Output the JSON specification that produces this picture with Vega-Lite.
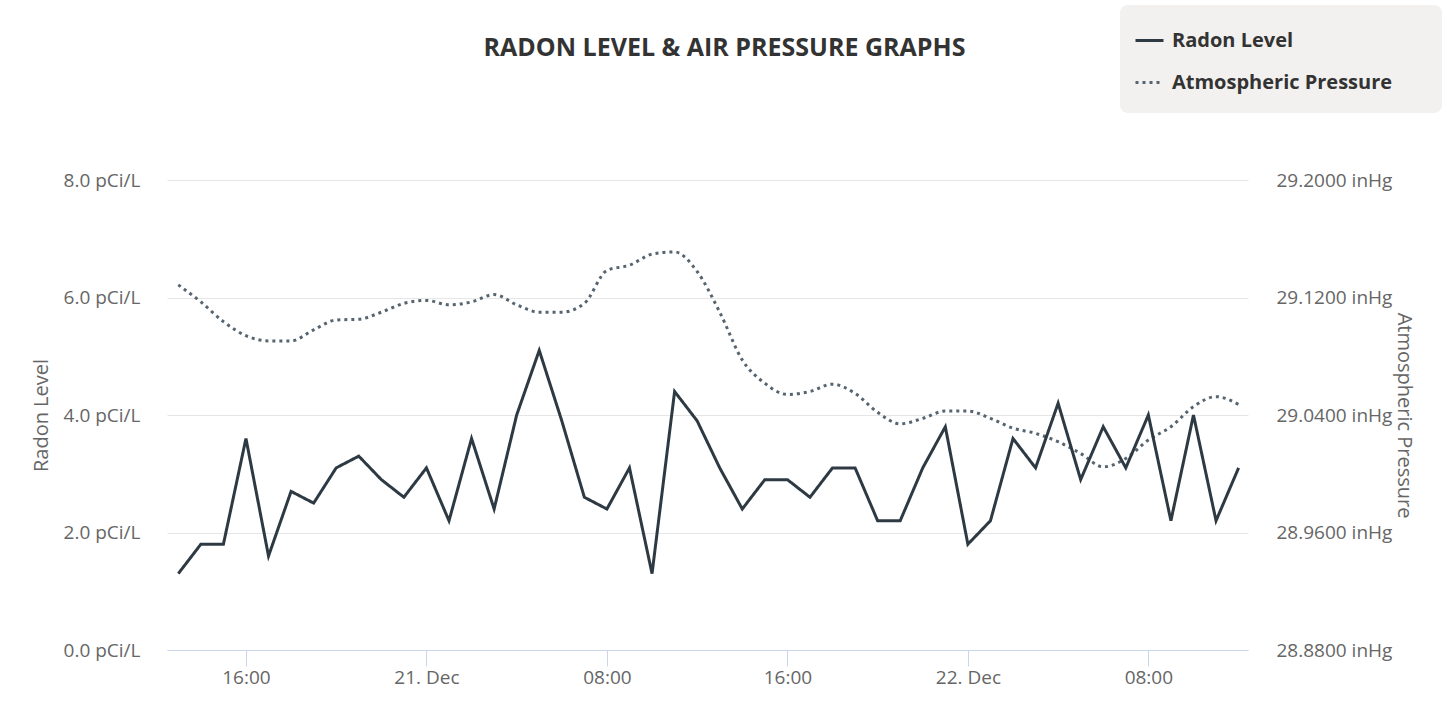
{
  "$schema": "https://vega.github.io/schema/vega-lite/v6.json",
  "autosize": "none",
  "width": 1081,
  "height": 470,
  "padding": {"left": 167, "top": 180, "right": 200, "bottom": 60},
  "background": "#ffffff",
  "config": {
    "view": {"stroke": null},
    "font": "Open Sans",
    "axis": {"labelFont": "Open Sans", "titleFont": "Open Sans"}
  },
  "title": {
    "text": "RADON LEVEL & AIR PRESSURE GRAPHS",
    "font": "Open Sans",
    "fontSize": 25,
    "fontWeight": "bold",
    "color": "#333333",
    "anchor": "middle",
    "frame": "group",
    "baseline": "alphabetic",
    "dx": 17,
    "offset": -76
  },
  "data": {
    "values": [
      {"t": "2023-12-20T13:00:00Z", "radon": 1.3, "pressure": 29.1286},
      {"t": "2023-12-20T14:00:00Z", "radon": 1.8, "pressure": 29.117},
      {"t": "2023-12-20T15:00:00Z", "radon": 1.8, "pressure": 29.1036},
      {"t": "2023-12-20T16:00:00Z", "radon": 3.6, "pressure": 29.094},
      {"t": "2023-12-20T17:00:00Z", "radon": 1.6, "pressure": 29.0904},
      {"t": "2023-12-20T18:00:00Z", "radon": 2.7, "pressure": 29.0904},
      {"t": "2023-12-20T19:00:00Z", "radon": 2.5, "pressure": 29.098},
      {"t": "2023-12-20T20:00:00Z", "radon": 3.1, "pressure": 29.1047},
      {"t": "2023-12-20T21:00:00Z", "radon": 3.3, "pressure": 29.1052},
      {"t": "2023-12-20T22:00:00Z", "radon": 2.9, "pressure": 29.11},
      {"t": "2023-12-20T23:00:00Z", "radon": 2.6, "pressure": 29.116},
      {"t": "2023-12-21T00:00:00Z", "radon": 3.1, "pressure": 29.118},
      {"t": "2023-12-21T01:00:00Z", "radon": 2.2, "pressure": 29.115},
      {"t": "2023-12-21T02:00:00Z", "radon": 3.6, "pressure": 29.117},
      {"t": "2023-12-21T03:00:00Z", "radon": 2.4, "pressure": 29.122},
      {"t": "2023-12-21T04:00:00Z", "radon": 4.0, "pressure": 29.115},
      {"t": "2023-12-21T05:00:00Z", "radon": 5.1, "pressure": 29.11},
      {"t": "2023-12-21T06:00:00Z", "radon": 3.9, "pressure": 29.11},
      {"t": "2023-12-21T07:00:00Z", "radon": 2.6, "pressure": 29.116},
      {"t": "2023-12-21T08:00:00Z", "radon": 2.4, "pressure": 29.1384},
      {"t": "2023-12-21T09:00:00Z", "radon": 3.1, "pressure": 29.142},
      {"t": "2023-12-21T10:00:00Z", "radon": 1.3, "pressure": 29.1495},
      {"t": "2023-12-21T11:00:00Z", "radon": 4.4, "pressure": 29.151},
      {"t": "2023-12-21T12:00:00Z", "radon": 3.9, "pressure": 29.1377},
      {"t": "2023-12-21T13:00:00Z", "radon": 3.1, "pressure": 29.11},
      {"t": "2023-12-21T14:00:00Z", "radon": 2.4, "pressure": 29.0775},
      {"t": "2023-12-21T15:00:00Z", "radon": 2.9, "pressure": 29.0616},
      {"t": "2023-12-21T16:00:00Z", "radon": 2.9, "pressure": 29.054},
      {"t": "2023-12-21T17:00:00Z", "radon": 2.6, "pressure": 29.056},
      {"t": "2023-12-21T18:00:00Z", "radon": 3.1, "pressure": 29.061},
      {"t": "2023-12-21T19:00:00Z", "radon": 3.1, "pressure": 29.0547},
      {"t": "2023-12-21T20:00:00Z", "radon": 2.2, "pressure": 29.0418},
      {"t": "2023-12-21T21:00:00Z", "radon": 2.2, "pressure": 29.034},
      {"t": "2023-12-21T22:00:00Z", "radon": 3.1, "pressure": 29.0377},
      {"t": "2023-12-21T23:00:00Z", "radon": 3.8, "pressure": 29.0427},
      {"t": "2023-12-22T00:00:00Z", "radon": 1.8, "pressure": 29.0427},
      {"t": "2023-12-22T01:00:00Z", "radon": 2.2, "pressure": 29.0377},
      {"t": "2023-12-22T02:00:00Z", "radon": 3.6, "pressure": 29.031},
      {"t": "2023-12-22T03:00:00Z", "radon": 3.1, "pressure": 29.0275},
      {"t": "2023-12-22T04:00:00Z", "radon": 4.2, "pressure": 29.0218},
      {"t": "2023-12-22T05:00:00Z", "radon": 2.9, "pressure": 29.0138},
      {"t": "2023-12-22T06:00:00Z", "radon": 3.8, "pressure": 29.0047},
      {"t": "2023-12-22T07:00:00Z", "radon": 3.1, "pressure": 29.0104},
      {"t": "2023-12-22T08:00:00Z", "radon": 4.0, "pressure": 29.023},
      {"t": "2023-12-22T09:00:00Z", "radon": 2.2, "pressure": 29.032},
      {"t": "2023-12-22T10:00:00Z", "radon": 4.0, "pressure": 29.0457},
      {"t": "2023-12-22T11:00:00Z", "radon": 2.2, "pressure": 29.0525},
      {"t": "2023-12-22T12:00:00Z", "radon": 3.1, "pressure": 29.0472}
    ]
  },
  "encoding": {
    "x": {
      "field": "t",
      "type": "temporal",
      "scale": {
        "type": "utc",
        "domain": [
          {"year": 2023, "month": 12, "date": 20, "hours": 12, "minutes": 30, "utc": true},
          {"year": 2023, "month": 12, "date": 22, "hours": 12, "minutes": 25, "utc": true}
        ],
        "nice": false
      },
      "axis": {
        "title": null,
        "grid": false,
        "domainColor": "#ccd6eb",
        "domainWidth": 1,
        "tickColor": "#ccd6eb",
        "tickSize": 16,
        "labelPadding": 2,
        "labelFontSize": 19,
        "labelColor": "#666666",
        "labelBaseline": "top",
        "labelFlush": false,
        "labelOverlap": false,
        "values": [
          {"year": 2023, "month": 12, "date": 20, "hours": 16, "utc": true},
          {"year": 2023, "month": 12, "date": 21, "hours": 0, "utc": true},
          {"year": 2023, "month": 12, "date": 21, "hours": 8, "utc": true},
          {"year": 2023, "month": 12, "date": 21, "hours": 16, "utc": true},
          {"year": 2023, "month": 12, "date": 22, "hours": 0, "utc": true},
          {"year": 2023, "month": 12, "date": 22, "hours": 8, "utc": true}
        ],
        "labelExpr": "utchours(datum.value) == 0 ? utcFormat(datum.value, '%d. %b') : utcFormat(datum.value, '%H:%M')"
      }
    }
  },
  "layer": [
    {
      "mark": {"type": "line", "strokeWidth": 3, "interpolate": "monotone"},
      "encoding": {
        "y": {
          "field": "pressure",
          "type": "quantitative",
          "scale": {"domain": [28.88, 29.2], "nice": false, "zero": false},
          "axis": {
            "orient": "right",
            "title": "Atmospheric Pressure",
            "titleFontSize": 20,
            "titleFontWeight": "normal",
            "titleColor": "#666666",
            "titlePadding": 2,
            "values": [28.88, 28.96, 29.04, 29.12, 29.2],
            "labelExpr": "format(datum.value, '.4f') + ' inHg'",
            "labelFontSize": 19,
            "labelColor": "#666666",
            "labelPadding": 28,
            "grid": false,
            "domain": false,
            "ticks": false
          }
        },
        "color": {
          "datum": "Atmospheric Pressure",
          "scale": {"domain": ["Radon Level", "Atmospheric Pressure"], "range": ["#2e3a43", "#56646f"]},
          "legend": {
            "orient": "none",
            "legendX": 953,
            "legendY": -175,
            "title": " ",
            "titleOrient": "right",
            "titlePadding": 30,
            "titleFontSize": 4,
            "fillColor": "#f2f1ef",
            "cornerRadius": 8,
            "padding": 20,
            "rowPadding": 16,
            "labelFont": "Open Sans",
            "labelFontSize": 20,
            "labelFontWeight": "bold",
            "labelColor": "#333333",
            "labelOffset": 7,
            "labelLimit": 400,
            "symbolOffset": -6,
            "symbolSize": 784,
            "symbolStrokeWidth": 3,
            "symbolType": "stroke"
          }
        },
        "strokeDash": {
          "datum": "Atmospheric Pressure",
          "scale": {"domain": ["Radon Level", "Atmospheric Pressure"], "range": [[1, 0], [3, 4]]},
          "legend": {
            "orient": "none",
            "legendX": 953,
            "legendY": -175,
            "title": " ",
            "titleOrient": "right",
            "titlePadding": 30,
            "titleFontSize": 4,
            "fillColor": "#f2f1ef",
            "cornerRadius": 8,
            "padding": 20,
            "rowPadding": 16,
            "labelFont": "Open Sans",
            "labelFontSize": 20,
            "labelFontWeight": "bold",
            "labelColor": "#333333",
            "labelOffset": 7,
            "labelLimit": 400,
            "symbolOffset": -6,
            "symbolSize": 784,
            "symbolStrokeWidth": 3,
            "symbolType": "stroke"
          }
        }
      }
    },
    {
      "mark": {"type": "line", "strokeWidth": 3},
      "encoding": {
        "y": {
          "field": "radon",
          "type": "quantitative",
          "scale": {"domain": [0, 8], "nice": false},
          "axis": {
            "orient": "left",
            "title": "Radon Level",
            "titleFontSize": 20,
            "titleFontWeight": "normal",
            "titleColor": "#666666",
            "titlePadding": 12,
            "values": [0, 2, 4, 6, 8],
            "labelExpr": "format(datum.value, '.1f') + ' pCi/L'",
            "labelFontSize": 19,
            "labelColor": "#666666",
            "labelPadding": 27,
            "grid": true,
            "gridColor": "#e6e6e6",
            "gridWidth": 1,
            "domain": false,
            "ticks": false
          }
        },
        "color": {"datum": "Radon Level"},
        "strokeDash": {"datum": "Radon Level"}
      }
    }
  ],
  "resolve": {"scale": {"y": "independent"}}
}
